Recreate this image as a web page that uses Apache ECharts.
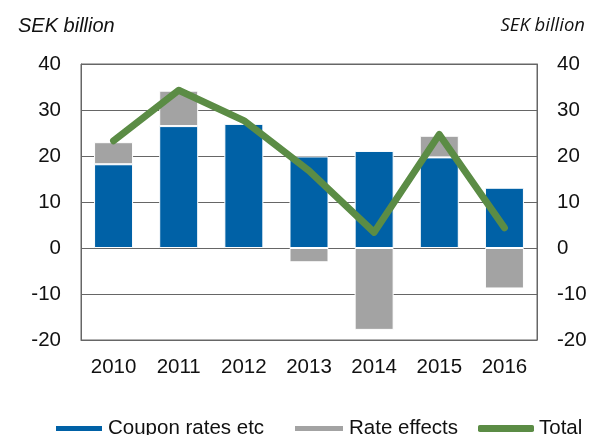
<!DOCTYPE html>
<html>
<head>
<meta charset="utf-8">
<script src="https://cdn.jsdelivr.net/npm/echarts@6/dist/echarts.min.js"></script>
<style>
  html, body { margin: 0; padding: 0; background: #fff; }
  #chart { width: 601px; height: 435px; }
</style>
</head>
<body>
<div id="chart"></div>
<script>
// 数据
const years = ['2010', '2011', '2012', '2013', '2014', '2015', '2016'];
const couponRates = [18.2, 26.5, 27.0, 19.9, 21.1, 19.7, 13.1];
const rateEffects = [4.8, 7.7, 0, -3.1, -17.8, 4.7, -8.8];
const total = [23.3, 34.3, 27.7, 16.8, 3.4, 24.7, 4.4];

const font = 'Liberation Sans, Arial, sans-serif';

const chart = echarts.init(document.getElementById('chart'));

const yAxisBase = {
    type: 'value',
    min: -20,
    max: 40,
    interval: 10,
    axisLine: { show: true, lineStyle: { color: '#666', width: 1 } },
    axisTick: { show: false },
    axisLabel: { color: '#111', fontSize: 20.5, fontFamily: font, margin: 20 }
};

// 图例分成三段，方便对齐位置
const legendBase = {
    bottom: -9,
    itemWidth: 48,
    itemHeight: 7,
    textStyle: { fontSize: 20.5, color: '#111', fontFamily: font }
};

const option = {
    animation: false,
    title: [
        {
            text: 'SEK billion',
            left: 13, top: 11,
            textStyle: { fontSize: 20, fontStyle: 'italic', fontWeight: 'normal', color: '#111', fontFamily: font }
        },
        {
            text: 'SEK billion',
            right: 11, top: 11,
            textStyle: { fontSize: 18.5, fontStyle: 'italic', fontWeight: 'normal', color: '#111', fontFamily: 'Open Sans' }
        }
    ],
    grid: {
        left: 81, right: 64, top: 64, bottom: 95,
        show: true,
        borderColor: '#666',
        borderWidth: 1
    },
    legend: [
        Object.assign({}, legendBase, { left: 49, data: [{ name: 'Coupon rates etc', icon: 'rect' }] }),
        Object.assign({}, legendBase, { left: 288, itemWidth: 50, data: [{ name: 'Rate effects', icon: 'rect' }] }),
        Object.assign({}, legendBase, { left: 473, itemWidth: 56, data: [{ name: 'Total', icon: 'roundRect' }] })
    ],
    xAxis: {
        type: 'category',
        data: years,
        axisLine: { show: true, onZero: false, lineStyle: { color: '#666' } },
        axisTick: { show: false },
        axisLabel: { color: '#111', fontSize: 20.5, fontFamily: font, margin: 17 }
    },
    yAxis: [
        Object.assign({}, yAxisBase, {
            position: 'left',
            splitLine: { show: true, lineStyle: { color: '#666', width: 1 } }
        }),
        Object.assign({}, yAxisBase, {
            position: 'right',
            splitLine: { show: false }
        })
    ],
    series: [
        {
            name: 'Coupon rates etc',
            type: 'bar',
            stack: 'sum',
            barWidth: 39,
            itemStyle: { color: '#0061a6', borderColor: '#fff', borderWidth: 1 },
            data: couponRates
        },
        {
            name: 'Rate effects',
            type: 'bar',
            stack: 'sum',
            barWidth: 39,
            itemStyle: { color: '#a3a3a3', borderColor: '#fff', borderWidth: 1 },
            data: rateEffects
        },
        {
            name: 'Total',
            type: 'line',
            showSymbol: false,
            symbol: 'none',
            z: 5,
            itemStyle: { color: '#5b8c45' },
            lineStyle: { color: '#5b8c45', width: 7, cap: 'round', join: 'round' },
            data: total
        }
    ]
};

chart.setOption(option);
</script>
</body>
</html>
